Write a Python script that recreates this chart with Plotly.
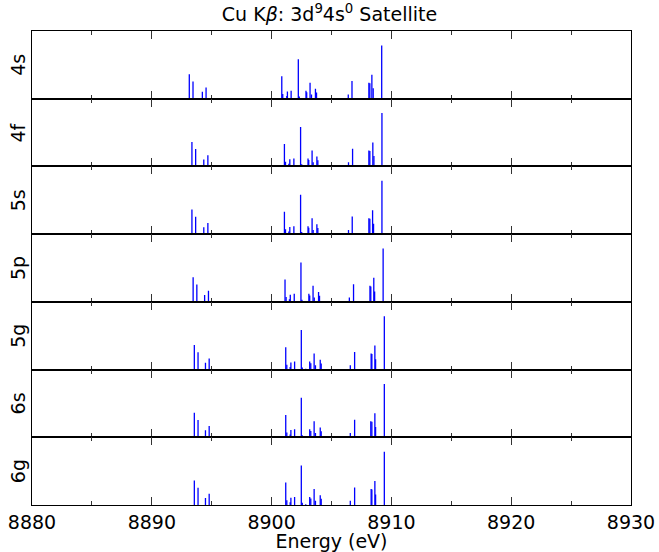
import plotly.graph_objects as go
from plotly.subplots import make_subplots

panel_labels = ["4s", "4f", "5s", "5p", "5g", "6s", "6g"]

# relative stick intensities (shared ordering of lines)
intensity = [0.46, 0.325, 0.13, 0.21, 0.42, 0.09, 0.05, 0.135, 0.15, 0.74,
             0.04, 0.015, 0.15, 0.12, 0.30, 0.08, 0.185, 0.115, 0.08, 0.33,
             0.30, 0.29, 0.45, 0.195, 1.0]

energy_4s = [8893.13, 8893.44, 8894.22, 8894.53, 8900.85, 8900.93, 8901.27, 8901.32,
             8901.63, 8902.23, 8902.31, 8902.70, 8902.87, 8902.93, 8903.21, 8903.33,
             8903.66, 8903.75, 8906.40, 8906.71, 8908.12, 8908.20, 8908.37, 8908.48,
             8909.19]
energy_4f = [8893.35, 8893.66, 8894.34, 8894.68, 8901.07, 8901.16, 8901.44, 8901.52,
             8901.86, 8902.42, 8902.51, 8902.76, 8903.04, 8903.10, 8903.38, 8903.47,
             8903.78, 8903.86, 8906.42, 8906.76, 8908.12, 8908.20, 8908.45, 8908.54,
             8909.21]
energy_5s = [8893.35, 8893.66, 8894.34, 8894.68, 8901.07, 8901.16, 8901.44, 8901.52,
             8901.86, 8902.42, 8902.51, 8902.76, 8903.04, 8903.10, 8903.38, 8903.47,
             8903.78, 8903.86, 8906.42, 8906.73, 8908.12, 8908.20, 8908.43, 8908.51,
             8909.21]
energy_5p = [8893.45, 8893.76, 8894.41, 8894.73, 8901.12, 8901.21, 8901.49, 8901.56,
             8901.89, 8902.45, 8902.53, 8902.80, 8903.11, 8903.18, 8903.46, 8903.56,
             8903.92, 8904.00, 8906.49, 8906.84, 8908.21, 8908.28, 8908.53, 8908.60,
             8909.31]
energy_5g = [8893.55, 8893.86, 8894.48, 8894.79, 8901.18, 8901.27, 8901.55, 8901.61,
             8901.92, 8902.48, 8902.56, 8902.85, 8903.18, 8903.27, 8903.55, 8903.66,
             8904.06, 8904.14, 8906.57, 8906.93, 8908.31, 8908.37, 8908.62, 8908.68,
             8909.41]
energy_6s = [8893.55, 8893.86, 8894.48, 8894.79, 8901.18, 8901.27, 8901.55, 8901.61,
             8901.92, 8902.48, 8902.56, 8902.85, 8903.18, 8903.27, 8903.55, 8903.66,
             8904.06, 8904.14, 8906.57, 8906.93, 8908.28, 8908.37, 8908.62, 8908.68,
             8909.41]
energy_6g = [8893.55, 8893.86, 8894.48, 8894.79, 8901.18, 8901.27, 8901.55, 8901.61,
             8901.92, 8902.48, 8902.56, 8902.85, 8903.18, 8903.27, 8903.55, 8903.66,
             8904.06, 8904.14, 8906.57, 8906.93, 8908.31, 8908.37, 8908.62, 8908.68,
             8909.41]

energies = [energy_4s, energy_4f, energy_5s, energy_5p, energy_5g, energy_6s, energy_6g]

x_ticks = [8880, 8890, 8900, 8910, 8920, 8930]

FONT = "DejaVu Sans"
W, H = 659, 552
L, R, T, B = 32, 28, 31, 47

fig = make_subplots(rows=7, cols=1, shared_xaxes=True, vertical_spacing=0)

for i, (lab, en) in enumerate(zip(panel_labels, energies)):
    xs, ys = [], []
    for e, h in zip(en, intensity):
        xs += [e, e, None]
        ys += [0, h, None]
    fig.add_trace(go.Scatter(x=xs, y=ys, mode="lines",
                             line=dict(color="#0000ff", width=1.3),
                             showlegend=False, hoverinfo="skip"),
                  row=i + 1, col=1)
    fig.update_yaxes(range=[0, 1.27], showticklabels=False, ticks="",
                     showgrid=False, zeroline=False, showline=True,
                     linecolor="black", linewidth=1, mirror=True,
                     automargin=False, row=i + 1, col=1)
    fig.update_xaxes(range=[8880, 8930], tickvals=x_ticks, ticks="inside",
                     ticklen=8, tickwidth=1, tickcolor="#333333",
                     minor=dict(dtick=5, tick0=8880, ticks="inside", ticklen=4,
                                tickwidth=1, tickcolor="#333333", showgrid=False),
                     showgrid=False, zeroline=False, showline=True,
                     linecolor="black", linewidth=1, mirror="allticks",
                     automargin=False, row=i + 1, col=1)

fig.update_xaxes(tickfont=dict(family=FONT, size=19, color="black"),
                 title=dict(text="Energy (eV)", standoff=0,
                            font=dict(family=FONT, size=19, color="black")),
                 row=7, col=1)

plot_w = W - L - R
panel_h = 1.0 / 7
for i, lab in enumerate(panel_labels):
    yc = 1 - (i + 0.5) * panel_h
    fig.add_annotation(text=lab, xref="paper", yref="paper",
                       x=(18 - L) / plot_w, y=yc, xanchor="center",
                       yanchor="middle", textangle=-90, showarrow=False,
                       font=dict(family=FONT, size=19, color="black"))

fig.update_layout(
    width=W, height=H,
    margin=dict(l=L, r=R, t=T, b=B, pad=0),
    paper_bgcolor="white", plot_bgcolor="white",
    title=dict(text="Cu K<i>β</i>: 3d<sup>9</sup>4s<sup>0</sup> Satellite",
               x=0.5, xanchor="center", y=1 - 14 / H, yanchor="middle",
               font=dict(family=FONT, size=19, color="black")),
)

fig.write_html("out.html")
